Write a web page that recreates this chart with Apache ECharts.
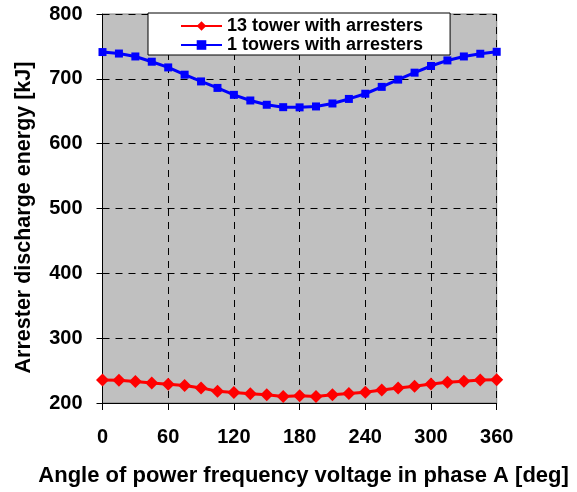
<!DOCTYPE html>
<html><head><meta charset="utf-8">
<script src="https://cdn.jsdelivr.net/npm/echarts@6/dist/echarts.min.js"></script>
<style>html,body{margin:0;padding:0;background:#fff}#c{width:577px;height:492px}</style>
</head><body><div id="c"></div>
<script>
var angles = [0,15,30,45,60,75,90,105,120,135,150,165,180,195,210,225,240,255,270,285,300,315,330,345,360];
var tower13 = [235.6,235.1,233,231,229,226.9,223.3,218.2,216.1,214.1,212.6,210,211,210,212.6,214.6,216.7,220.2,223.3,225.9,229.4,232,233.6,235.6,236];
var tower1 = [741.3,739,734.5,726.4,717.6,706.4,696,686,675.3,666.6,660,656.3,656,657.4,662,669,677,687.6,698.8,709.5,719.8,728.4,734.5,738.7,741.7];
var xTicks = [0,60,120,180,240,300,360];
var yTicks = [200,300,400,500,600,700,800];
var seriesNames = ['13 tower with arresters','1 towers with arresters'];

var F = 'Arial, "Liberation Sans", sans-serif';
function pairs(vals){ return angles.map(function(a,i){ return [a, vals[i]]; }); }
var chart = echarts.init(document.getElementById('c'), null, {renderer:'canvas'});
chart.setOption({
  animation:false,
  backgroundColor:'#fff',
  grid:{left:102.5, right:80.3, top:14, bottom:86.7, show:true, backgroundColor:'#c0c0c0', borderColor:'#808080', borderWidth:1},
  legend:{
    orient:'vertical', left:148, top:13, itemGap:1,
    backgroundColor:'#fff', borderColor:'#000', borderWidth:1, borderRadius:0,
    padding:[4,27,1,32], itemWidth:41, itemHeight:12,
    textStyle:{fontFamily:F, fontSize:18, fontWeight:'bold', color:'#000', lineHeight:16},
    data:seriesNames
  },
  xAxis:{
    type:'value', min:0, max:360, interval:60,
    name:'Angle of power frequency voltage in phase A [deg]', nameLocation:'middle', nameGap:62,
    nameTextStyle:{fontFamily:F, fontSize:22, fontWeight:'bold', color:'#000', padding:[0,0,0,8]},
    axisLine:{lineStyle:{color:'#000', width:1}},
    axisTick:{show:true, length:7, lineStyle:{color:'#000'}},
    axisLabel:{margin:24, fontFamily:F, fontSize:20, fontWeight:'bold', color:'#000',
      formatter:function(v){ return xTicks.indexOf(v)>=0 ? String(v) : ''; }},
    splitLine:{show:true, lineStyle:{color:'#000', type:[7,6], width:1}}
  },
  yAxis:{
    type:'value', min:200, max:800, interval:100,
    name:'Arrester discharge energy [kJ]', nameLocation:'middle', nameGap:67,
    nameTextStyle:{fontFamily:F, fontSize:21.5, fontWeight:'bold', color:'#000', padding:[0,18,0,0]},
    axisLine:{show:true, lineStyle:{color:'#000', width:1}},
    axisTick:{show:true, length:6, lineStyle:{color:'#000'}},
    axisLabel:{margin:20, fontFamily:F, fontSize:20, fontWeight:'bold', color:'#000',
      formatter:function(v){ return yTicks.indexOf(v)>=0 ? String(v) : ''; }},
    splitLine:{show:true, lineStyle:{color:'#000', type:[7,6], width:1}}
  },
  series:[
    {name:seriesNames[0], type:'line', data:pairs(tower13), symbol:'diamond', symbolSize:13,
     itemStyle:{color:'#ff0000'}, lineStyle:{color:'#ff0000', width:3}, z:3},
    {name:seriesNames[1], type:'line', data:pairs(tower1), symbol:'rect', symbolSize:8,
     itemStyle:{color:'#0000ff'}, lineStyle:{color:'#0000ff', width:3}, z:3}
  ]
});
</script></body></html>
